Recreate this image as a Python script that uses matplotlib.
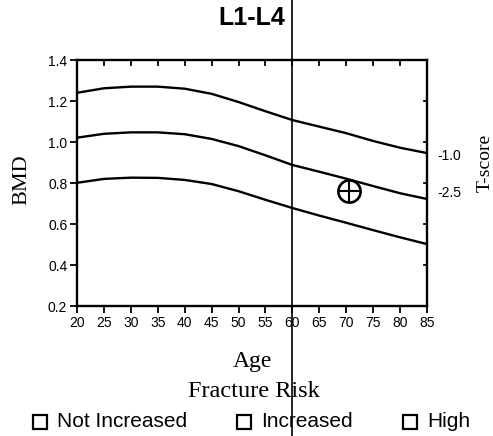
import matplotlib
matplotlib.use("Agg")
import matplotlib.pyplot as plt
from matplotlib.patches import Rectangle

# reference curves (BMD by age)
ages = [20, 25, 30, 35, 40, 45, 50, 55, 60, 65, 70, 75, 80, 85]
curve_top = [1.240, 1.262, 1.270, 1.270, 1.260, 1.235, 1.195, 1.150, 1.107, 1.075, 1.043, 1.005, 0.972, 0.946]
curve_mid = [1.021, 1.040, 1.047, 1.047, 1.038, 1.015, 0.980, 0.935, 0.888, 0.855, 0.821, 0.785, 0.750, 0.722]
curve_low = [0.801, 0.820, 0.826, 0.825, 0.815, 0.795, 0.760, 0.718, 0.678, 0.641, 0.606, 0.570, 0.535, 0.502]

# patient point
pt_age = 70.5
pt_bmd = 0.759

# t-score labels on the right
tscore_labels = ["-1.0", "-2.5"]
tscore_bmd = [0.932, 0.753]

x_ticks = list(range(20, 86, 5))
y_ticks = [0.2, 0.4, 0.6, 0.8, 1.0, 1.2, 1.4]
age_line = 60

risk_labels = ["Not Increased", "Increased", "High"]
risk_box_x = [33, 237, 403]   # pixel positions of the legend boxes

W, H = 493, 436
fig = plt.figure(figsize=(W / 100, H / 100), dpi=100)
ax = fig.add_axes([77 / W, 1 - 306 / H, 350 / W, 246 / H])

for c in (curve_top, curve_mid, curve_low):
    ax.plot(ages, c, color="black", lw=1.7, solid_joinstyle="round")

ax.plot(pt_age, pt_bmd, marker="o", ms=16, mfc="none", mec="black", mew=1.9)
ax.plot(pt_age, pt_bmd, marker="+", ms=16, mec="black", mew=1.5)

ax.set_xlim(20, 85)
ax.set_ylim(0.2, 1.4)
ax.set_xticks(x_ticks)
ax.set_yticks(y_ticks)
ax.set_xticklabels([str(a) for a in x_ticks], fontsize=10, family="Liberation Sans")
ax.set_yticklabels(["%.1f" % v for v in y_ticks], fontsize=10, family="Liberation Sans")
ax.tick_params(axis="both", direction="out", length=5, width=1.3, pad=2,
               top=False, right=False)
for s in ax.spines.values():
    s.set_linewidth(1.7)

# inner ticks on top and right
for a in x_ticks[1:-1]:
    ax.plot([a, a], [1.4, 1.4 - 0.025], color="black", lw=1.3, clip_on=False)
for v in y_ticks[1:-1]:
    ax.plot([85, 85 - 0.6], [v, v], color="black", lw=1.3, clip_on=False)

# long vertical age line through the whole figure
ax.plot([age_line, age_line], [-0.528, 1.244], color="black", lw=1.2,
        transform=ax.get_xaxis_transform(), clip_on=False)

for lab, v in zip(tscore_labels, tscore_bmd):
    ax.text(1.03, v, lab, transform=ax.get_yaxis_transform(), fontsize=10,
            family="Liberation Sans", va="center", ha="left")

fig.text(485 / W, 1 - 163 / H, "T-score", rotation=90, fontsize=14,
         family="Liberation Serif", ha="center", va="center")
fig.text(22 / W, 1 - 180 / H, "BMD", rotation=90, fontsize=16,
         family="Liberation Serif", ha="center", va="center")
fig.text(252 / W, 1 - 18 / H, "L1-L4", fontsize=18, fontweight="bold",
         family="Liberation Sans", ha="center", va="center")
fig.text(252 / W, 1 - 361 / H, "Age", fontsize=17,
         family="Liberation Serif", ha="center", va="center")
fig.text(254 / W, 1 - 391 / H, "Fracture Risk", fontsize=17.5,
         family="Liberation Serif", ha="center", va="center")

for lab, bx in zip(risk_labels, risk_box_x):
    fig.patches.append(Rectangle((bx / W, 1 - 429 / H), 14 / W, 14 / H, fill=False,
                                 ec="black", lw=1.6, transform=fig.transFigure))
    fig.text((bx + 24) / W, 1 - 421 / H, lab, fontsize=15,
             family="Liberation Sans", ha="left", va="center")

fig.savefig("out.png", dpi=100)
